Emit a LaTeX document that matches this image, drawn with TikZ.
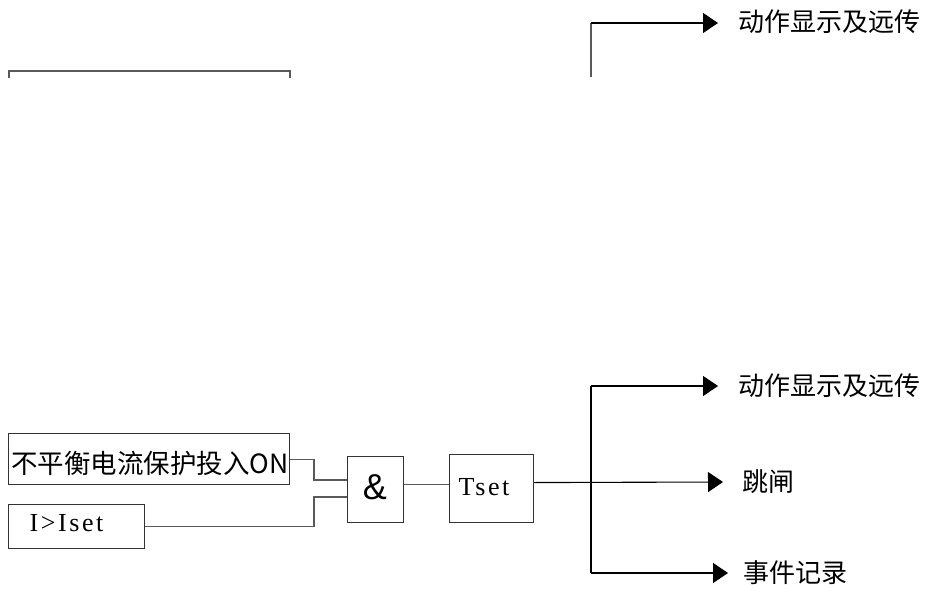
\documentclass[tikz,border=0pt]{standalone}
\usepackage{fontspec}
\setmainfont{Liberation Serif}
\newfontfamily\cjk{Noto Sans CJK SC}
\newfontfamily\ampfont{Liberation Sans}
\usetikzlibrary{arrows.meta}
\begin{document}
\begin{tikzpicture}[x=1pt,y=-1pt,
  box/.style={draw=black!80, line width=1.1pt, rectangle, inner sep=0pt, anchor=north west},
  wire/.style={draw=black!65, line width=1.1pt},
  bus/.style={draw=black, line width=1.1pt},
  arr/.style={bus, -{Triangle[length=15pt,width=20pt]}},
  lbl/.style={anchor=west, inner sep=0pt, font=\cjk\fontsize{26}{28}\selectfont},
  cjktxt/.style={inner sep=0pt, font=\cjk\fontsize{26.5}{28}\selectfont},
  sertxt/.style={inner sep=0pt, font=\fontsize{26}{28}\selectfont\addfontfeature{LetterSpace=10}},
]
\useasboundingbox (0,0) rectangle (931,594);

% top fragments
\coordinate (fa) at (9,78);
\coordinate (fb) at (9,71);
\coordinate (fc) at (290,71);
\coordinate (fd) at (290,78);
\draw[wire] (fa) -- (fb) -- (fc) -- (fd);
\coordinate (ta) at (591,77);
\coordinate (tb) at (591,23);
\coordinate (tc) at (718,23);
\draw[wire] (ta) -- (tb);
\draw[arr] (tb) -- (tc);
\node[lbl] (toptxt) at (738,22) {动作显示及远传};

% input boxes
\node[box, minimum width=281pt, minimum height=51pt] (on) at (8,433) {};
\node[cjktxt] (ontxt) at (150,463.5) {不平衡电流保护投入ON};
\node[box, minimum width=136pt, minimum height=44pt] (iset) at (8,504) {};
\node[sertxt] (isettxt) at (66.5,523) {I>Iset};

% AND gate
\node[box, minimum width=56pt, minimum height=66pt] (and) at (347,456) {};
\node[inner sep=0pt, font=\ampfont\fontsize{36}{40}\selectfont] (amptxt) at (375,487) {\&};

% timer
\node[box, minimum width=84pt, minimum height=68pt] (tset) at (449,454) {};
\node[sertxt] (tsettxt) at (484,487) {Tset};

% input wires
\coordinate (j1) at (314,480);
\coordinate (j2) at (314,497);
\draw[wire] (on.east) -| (j1) -- (and.west |- j1);
\draw[wire] (iset.east) -| (j2) -- (and.west |- j2);
\draw[wire] ([yshift=5pt]and.east) -- ([yshift=5pt]and.east -| tset.west);

% outputs
\coordinate (b1) at (591,386);
\coordinate (b3) at (591,573);
\coordinate (t1) at (718,386);
\coordinate (t2) at (723,482);
\coordinate (t3) at (728,573);
\draw[bus] (b1) -- (b3);
\draw[arr] (b1) -- (t1);
\draw[arr] ([yshift=6pt]tset.east) -- (t2);
\draw[arr] (b3) -- (t3);
\node[lbl] (out1) at (738,386) {动作显示及远传};
\node[lbl] (out2) at (742,482) {跳闸};
\node[lbl] (out3) at (743,573) {事件记录};
\end{tikzpicture}
\end{document}
